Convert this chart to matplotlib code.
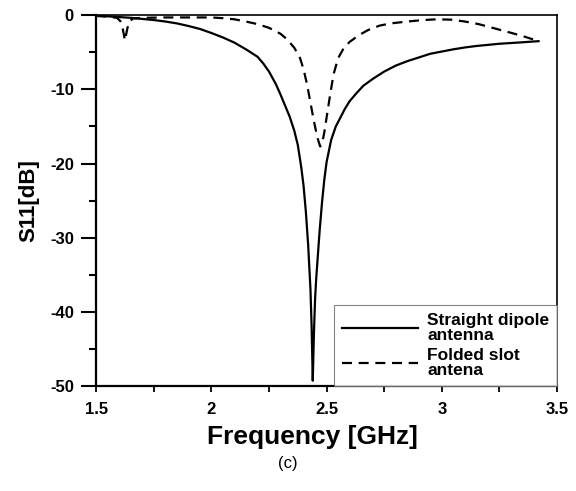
import numpy as np
import matplotlib.pyplot as plt
from matplotlib.ticker import MultipleLocator

# ---- data ----
freq_dipole = [1.5, 1.55, 1.6, 1.65, 1.7, 1.75, 1.8, 1.85, 1.9, 1.95, 2.0, 2.05,
               2.1, 2.15, 2.2, 2.225, 2.25, 2.28, 2.3, 2.32, 2.34, 2.36, 2.375, 2.39, 2.40,
               2.41, 2.42, 2.43, 2.435, 2.44, 2.445, 2.45, 2.455, 2.46, 2.47, 2.48,
               2.49, 2.50, 2.52, 2.54, 2.56, 2.58, 2.6, 2.63, 2.66, 2.7, 2.75, 2.8,
               2.85, 2.9, 2.95, 3.0, 3.05, 3.1, 3.15, 3.2, 3.25, 3.3, 3.35, 3.42]
s11_dipole = [-0.05, -0.15, -0.25, -0.35, -0.5, -0.65, -0.85, -1.1, -1.45, -1.85, -2.4, -3.0,
              -3.7, -4.6, -5.6, -6.5, -7.6, -9.3, -10.7, -12.2, -13.7, -15.6, -17.5, -20.5, -23.0,
              -26.5, -31.0, -37.0, -42.0, -49.3, -43.0, -38.3, -35.5, -33.3, -29.0, -25.3,
              -22.2, -19.8, -16.8, -15.0, -13.8, -12.6, -11.6, -10.5, -9.5, -8.6, -7.6, -6.8,
              -6.2, -5.7, -5.2, -4.9, -4.6, -4.35, -4.15, -4.0, -3.85, -3.75, -3.65, -3.5]

freq_slot = [1.5, 1.55, 1.59, 1.605, 1.615, 1.625, 1.635, 1.645, 1.66, 1.7, 1.8, 1.9,
             2.0, 2.05, 2.1, 2.15, 2.2, 2.25, 2.3, 2.33, 2.36, 2.385, 2.40, 2.415,
             2.43, 2.445, 2.46, 2.472, 2.48, 2.49, 2.50, 2.515, 2.53, 2.55, 2.575, 2.6,
             2.64, 2.68, 2.73, 2.78, 2.85, 2.92, 2.98, 3.04, 3.1, 3.16, 3.22, 3.28,
             3.35, 3.42]
s11_slot = [-0.1, -0.2, -0.35, -0.8, -1.8, -3.4, -1.8, -0.8, -0.45, -0.35, -0.3, -0.3,
            -0.3, -0.4, -0.55, -0.85, -1.2, -1.7, -2.5, -3.3, -4.4, -5.8, -7.3, -9.3,
            -11.8, -14.3, -16.5, -17.7, -17.4, -15.8, -13.8, -10.8, -8.0, -5.8, -4.4, -3.6,
            -2.7, -2.0, -1.4, -1.1, -0.85, -0.65, -0.55, -0.6, -0.85, -1.2, -1.7, -2.2,
            -2.8, -3.5]

label_dipole = "Straight dipole\nantenna"
label_slot = "Folded slot\nantena"

plt.rcParams['font.family'] = ['Liberation Sans', 'DejaVu Sans']
plt.rcParams['axes.unicode_minus'] = False

fig = plt.figure(figsize=(5.76, 4.91), dpi=100)
ax = fig.add_axes([0.167, 0.214, 0.800, 0.755])

ax.plot(freq_dipole, s11_dipole, color='black', lw=1.6, label=label_dipole)
ax.plot(freq_slot, s11_slot, color='black', lw=1.6, ls=(0, (4.5, 3)), label=label_slot)

ax.set_xlim(1.5, 3.5)
ax.set_ylim(-50, 0)
ax.xaxis.set_minor_locator(MultipleLocator(0.25))
ax.yaxis.set_major_locator(MultipleLocator(10))
ax.yaxis.set_minor_locator(MultipleLocator(5))
ax.set_xticks([1.5, 2, 2.5, 3, 3.5])
ax.set_xticklabels(['1.5', '2', '2.5', '3', '3.5'])

ax.tick_params(axis='y', which='major', direction='out', length=11, width=1.5, pad=5)
ax.tick_params(axis='y', which='minor', direction='out', length=5, width=1.5)
ax.tick_params(axis='x', which='both', direction='out', length=4.5, width=1.3, pad=7)
for lab in ax.get_xticklabels() + ax.get_yticklabels():
    lab.set_fontweight('bold')
    lab.set_fontsize(12)

for side in ['left', 'bottom']:
    ax.spines[side].set_linewidth(1.6)
for side in ['top', 'right']:
    ax.spines[side].set_linewidth(1.2)

ax.set_xlabel("Frequency [GHz]", fontsize=19, fontweight='bold', va='center')
ax.xaxis.set_label_coords(0.47, -0.138)
ax.set_ylabel("S11[dB]", fontsize=16, fontweight='bold', labelpad=8)

leg = ax.legend(loc='lower right', borderaxespad=0, handlelength=4.4,
                prop={'weight': 'bold', 'size': 12.5}, fancybox=False,
                edgecolor='#666666', labelspacing=0.3, borderpad=0.45,
                handletextpad=0.5)
leg.get_frame().set_linewidth(0.8)
for t in leg.get_texts():
    t.set_linespacing(1.0)

fig.text(0.5, 0.057, "(c)", ha='center', va='center', fontsize=12)

fig.savefig('out.png', dpi=100)
